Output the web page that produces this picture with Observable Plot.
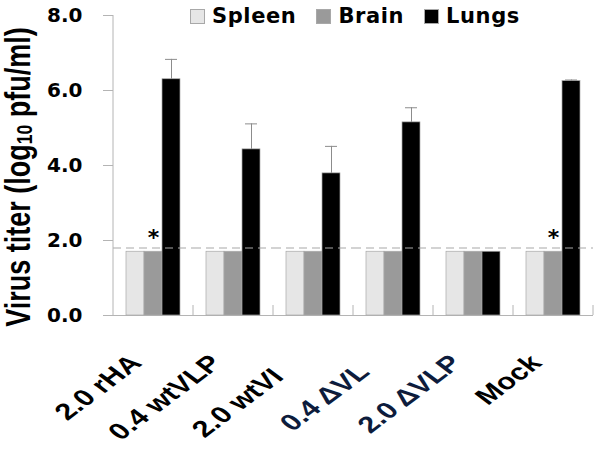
<!DOCTYPE html>
<html><head><meta charset="utf-8">
<script src="https://cdn.jsdelivr.net/npm/d3@7"></script>
<script src="https://cdn.jsdelivr.net/npm/@observablehq/plot@0.6"></script>
<style>
body{margin:0;background:#fff;}
#wrap{position:relative;width:602px;height:458px;overflow:hidden;background:#fff;}
#chart svg text{font-weight:bold;}
#legend{position:absolute;top:4px;left:190px;display:flex;align-items:center;font:bold 21px "DejaVu Sans";letter-spacing:0.6px;color:#000;white-space:nowrap;}
.item{display:flex;align-items:center;margin-right:20px;}
.sw{width:15px;height:15px;box-sizing:border-box;border:1px solid #a8a8a8;margin-right:7px;}
#ylab{position:absolute;left:19px;top:177px;transform:translate(-50%,-50%) rotate(-90deg) scale(1,1.3);white-space:nowrap;font:bold 27px "Liberation Sans";color:#000;line-height:1;}
#ylab sub{font-size:65%;vertical-align:-0.1em;}
.xl{position:absolute;white-space:pre;font:bold 23px "Liberation Sans";line-height:1;transform-origin:100% 50%;}
</style></head><body>
<div id="wrap"><div id="chart"></div><div id="legend"></div><div id="ylab">Virus titer (log<sub>10</sub> pfu/ml)</div><div id="xlabels"></div></div>
<script>
// ---- data ----
const groups = ["2.0 rHA", "0.4 wtVLP", "2.0 wtVLP", "0.4 ΔVLP", "2.0 ΔVLP", "Mock"];
const tickLabels = ["2.0 rHA", "0.4 wtVLP", "2.0 wtVI\u00A0\u00A0\u00A0", "0.4 ΔVL\u00A0\u00A0", "2.0 ΔVLP", "Mock"];
const tintedLabels = ["0.4 ΔVLP", "2.0 ΔVLP"];
const series = ["Spleen", "Brain", "Lungs"];
const spleen = [1.7, 1.7, 1.7, 1.7, 1.7, 1.7];
const brain = [1.7, 1.7, 1.7, 1.7, 1.7, 1.7];
const lungs = [6.3, 4.43, 3.79, 5.15, 1.7, 6.25];
const lungsErr = [0.53, 0.68, 0.72, 0.39, 0, 0.03];
const yTicks = [0, 2, 4, 6, 8];
const detectionLimit = 1.8;
const starGroups = ["2.0 rHA", "Mock"];
const seriesColors = ["#e6e6e6", "#9a9a9a", "#000000"];

// ---- tables ----
const values = {Spleen: spleen, Brain: brain, Lungs: lungs};
const rows = groups.flatMap((g, i) => series.map(s => ({
  group: g, series: s, value: values[s][i], err: s === "Lungs" ? lungsErr[i] : 0
})));
const errRows = rows.filter(d => d.err > 0);
const starRows = rows.filter(d => d.series === "Brain" && starGroups.includes(d.group));

// legend
const legend = document.getElementById("legend");
series.forEach((s, i) => {
  const it = document.createElement("div"); it.className = "item";
  const sw = document.createElement("div"); sw.className = "sw"; sw.style.background = seriesColors[i];
  const tx = document.createElement("span"); tx.textContent = s;
  it.append(sw, tx); legend.append(it);
});

let frameDrawn = false;
function axisFrame(index, scales, vals, dims) {
  const g = d3.create("svg:g").attr("stroke", "#b4b4b4").attr("fill", "none");
  if (frameDrawn) return g.node();
  frameDrawn = true;
  const fx = scales.fx, y = scales.y;
  const left = fx(groups[0]);
  g.append("line").attr("x1", left).attr("x2", left).attr("y1", y(yTicks[yTicks.length - 1])).attr("y2", y(0));
  for (const name of groups) {
    const xr = fx(name) + fx.bandwidth();
    g.append("line").attr("x1", xr).attr("x2", xr).attr("y1", y(0)).attr("y2", y(0) - 10);
  }
  return g.node();
}

const chart = Plot.plot({
  width: 602,
  height: 458,
  marginLeft: 113,
  marginRight: 9,
  marginTop: 15,
  marginBottom: 143,
  style: {fontFamily: "DejaVu Sans", background: "transparent"},
  fx: {domain: groups, padding: 0, axis: null},
  x: {domain: series, paddingInner: 0, paddingOuter: 0.68, axis: null},
  y: {domain: [0, 8]},
  color: {domain: series, range: seriesColors},
  marks: [
    Plot.axisY({ticks: yTicks, tickFormat: d3.format(".1f"), tickSize: 10, tickPadding: 21,
      fontSize: 20, fontWeight: "bold", fill: "#000", stroke: "#b4b4b4", label: null}),
    Plot.ruleY([0], {stroke: "#b4b4b4"}),
    Plot.barY(rows, {fx: "group", x: "series", y: "value", fill: "series", stroke: "#a8a8a8", strokeWidth: 0.7}),
    Plot.ruleY([detectionLimit], {stroke: "#a8a8a8", strokeDasharray: "8,5", strokeWidth: 1.2}),
    Plot.ruleX(errRows, {fx: "group", x: "series", y1: "value", y2: d => d.value + d.err, stroke: "#8c8c8c"}),
    Plot.tickY(errRows, {fx: "group", x: "series", y: d => d.value + d.err, stroke: "#8c8c8c", insetLeft: 3, insetRight: 3}),
    Plot.text(starRows, {fx: "group", x: "series", y: "value", text: () => "*", dy: -14, fontSize: 22, fontWeight: "bold", fill: "#000"}),
    axisFrame
  ]
});
document.getElementById("chart").append(chart);

// category labels placed from Plot's own fx and y scales (slanted, stretched like the source)
const fxScale = chart.scale("fx");
const yScale = chart.scale("y");
const xlab = document.getElementById("xlabels");
groups.forEach((g, i) => {
  const el = document.createElement("div");
  el.className = "xl";
  el.textContent = tickLabels[i];
  el.style.color = tintedLabels.includes(g) ? "#0d1c3c" : "#000";
  const cx = fxScale.apply(g) + fxScale.bandwidth / 2;
  el.style.left = (cx - 17) + "px";
  el.style.top = (yScale.apply(0) + 44) + "px";
  el.style.transform = "translate(-100%,-50%) scaleX(1.33) rotate(-45deg)";
  xlab.append(el);
});
</script>
</body></html>
